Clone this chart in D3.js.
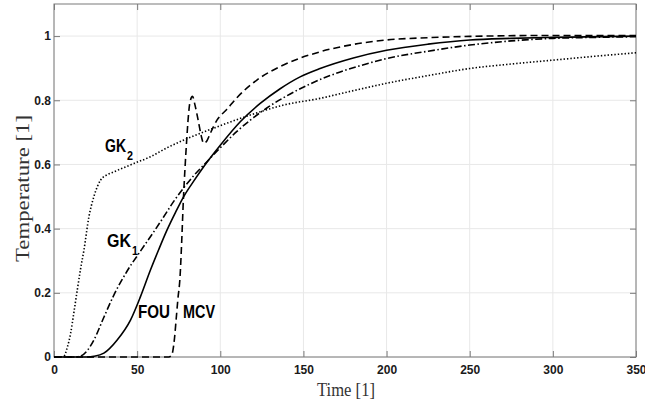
<!DOCTYPE html>
<html>
<head>
<meta charset="utf-8">
<script src="https://cdn.jsdelivr.net/npm/d3@7"></script>
<style>
  body { margin: 0; background: #fff; }
  svg { display: block; }
</style>
</head>
<body>
<svg id="canvas" width="645" height="409"></svg>
<script>
// tick values and labels
let xTicks = [0, 50, 100, 150, 200, 250, 300, 350];
let xTickLabels = ['0', '50', '100', '150', '200', '250', '300', '350'];
let yTicks = [0, 0.2, 0.4, 0.6, 0.8, 1];
let yTickLabels = ['0', '0.2', '0.4', '0.6', '0.8', '1'];

// curves: [time, temperature]
let gk2 = [[0,0],[4,0],[6,0.003],[8,0.03],[10,0.074],[12,0.14],[14,0.209],[16,0.275],[18,0.333],[21,0.437],[24,0.5],[26,0.53],[28,0.551],[32,0.568],[36,0.577],[42,0.59],[48,0.603],[58,0.624],[68,0.652],[78,0.676],[98,0.717],[118,0.754],[138,0.785],[160,0.806],[180,0.83],[200,0.853],[225,0.877],[250,0.899],[275,0.913],[300,0.925],[325,0.937],[350,0.948]];
let gk1 = [[0,0],[12,0],[16,0.003],[20,0.02],[24,0.053],[30,0.124],[36,0.193],[44,0.268],[52,0.33],[60,0.39],[66,0.437],[72,0.485],[78,0.527],[84,0.565],[90,0.598],[100,0.652],[110,0.703],[118,0.738],[128,0.776],[138,0.808],[152,0.846],[166,0.877],[183,0.906],[200,0.93],[225,0.953],[250,0.972],[275,0.985],[300,0.993],[325,0.996],[350,0.998]];
let fou = [[0,0],[20,0],[24,0.002],[30,0.012],[38,0.053],[46,0.115],[52,0.188],[58,0.271],[63,0.335],[68,0.396],[73,0.45],[78,0.5],[84,0.548],[90,0.593],[100,0.66],[112,0.733],[124,0.79],[136,0.836],[148,0.873],[160,0.899],[180,0.932],[200,0.956],[225,0.975],[250,0.988],[275,0.993],[300,0.996],[350,1.0]];
let mcv = [[0,0],[69,0],[70.5,0.004],[71.5,0.02],[72.5,0.06],[73.5,0.12],[74.5,0.18],[75.8,0.25],[76.8,0.36],[77.8,0.49],[78.8,0.59],[79.8,0.676],[80.8,0.75],[81.8,0.795],[83.3,0.812],[84.8,0.785],[86.8,0.735],[88.5,0.69],[90,0.666],[92,0.674],[94,0.697],[98,0.738],[104,0.772],[110,0.808],[122,0.863],[138,0.91],[160,0.951],[180,0.974],[200,0.988],[225,0.995],[250,0.999],[300,1.002],[350,1.002]];

let seriesData = [gk2, gk1, fou, mcv];
let seriesDash = ['1.4,2', '7,2.5,1.5,2.5', null, '7,4'];

let canvas = d3.select('#canvas');

let x = d3.scaleLinear().domain([0, 350]).range([54, 636]);
let y = d3.scaleLinear().domain([0, 1.1]).range([357, 4]);

// grid
canvas.append('g')
    .selectAll('line')
    .data(xTicks)
    .enter()
    .append('line')
    .attr('x1', d => x(d)).attr('x2', d => x(d))
    .attr('y1', y(0)).attr('y2', y(1.1))
    .attr('stroke', '#e8e8e8')
    .attr('stroke-width', 1);

canvas.append('g')
    .selectAll('line')
    .data(yTicks)
    .enter()
    .append('line')
    .attr('x1', x(0)).attr('x2', x(350))
    .attr('y1', d => y(d)).attr('y2', d => y(d))
    .attr('stroke', '#e8e8e8')
    .attr('stroke-width', 1);

// axes with inward ticks
let styleAxis = (g) => {
    g.select('.domain').remove();
    g.selectAll('.tick line').attr('stroke', '#7a7a7a');
    g.selectAll('.tick text')
        .attr('fill', '#1a1a1a')
        .style('font-family', '"Liberation Sans", Arial, sans-serif')
        .style('font-size', '12px')
        .style('font-weight', 'bold');
};

canvas.append('g')
    .attr('transform', 'translate(0,' + y(0) + ')')
    .call(d3.axisBottom(x).tickValues(xTicks).tickFormat((d, i) => xTickLabels[i]).tickSize(-6).tickPadding(8))
    .call(styleAxis);

canvas.append('g')
    .attr('transform', 'translate(0,' + y(1.1) + ')')
    .call(d3.axisTop(x).tickValues(xTicks).tickFormat('').tickSize(-6))
    .call(styleAxis);

canvas.append('g')
    .attr('transform', 'translate(' + x(0) + ',0)')
    .call(d3.axisLeft(y).tickValues(yTicks).tickFormat((d, i) => yTickLabels[i]).tickSize(-6).tickPadding(3))
    .call(styleAxis);

canvas.append('g')
    .attr('transform', 'translate(' + x(350) + ',0)')
    .call(d3.axisRight(y).tickValues(yTicks).tickFormat('').tickSize(-6))
    .call(styleAxis);

// box
canvas.append('rect')
    .attr('x', x(0)).attr('y', y(1.1))
    .attr('width', x(350) - x(0)).attr('height', y(0) - y(1.1))
    .attr('fill', 'none')
    .attr('stroke', '#7a7a7a')
    .attr('stroke-width', 1);

// curves
let line = d3.line()
    .x(d => x(d[0]))
    .y(d => y(d[1]))
    .curve(d3.curveMonotoneX);

canvas.append('g')
    .selectAll('path')
    .data(seriesData)
    .enter()
    .append('path')
    .attr('d', line)
    .attr('fill', 'none')
    .attr('stroke', '#000')
    .attr('stroke-width', 1.6)
    .attr('stroke-dasharray', (d, i) => seriesDash[i]);

// curve labels (subscript as a tspan of the same text)
let labelFont = '"Liberation Sans", Arial, sans-serif';
let addLabel = (main, sub, lx, ly, w) => {
    let t = canvas.append('text')
        .attr('x', lx).attr('y', ly)
        .attr('fill', '#000')
        .style('font-family', labelFont)
        .style('font-weight', 'bold')
        .style('font-size', '19px');
    t.append('tspan')
        .attr('textLength', w)
        .attr('lengthAdjust', 'spacingAndGlyphs')
        .text(main);
    if (sub) {
        t.append('tspan')
            .attr('dx', 1)
            .attr('dy', 8)
            .style('font-size', '12px')
            .attr('textLength', 6)
            .attr('lengthAdjust', 'spacingAndGlyphs')
            .text(sub);
    }
};
addLabel('GK', '2', 105, 152, 21);
addLabel('GK', '1', 107, 247, 24);
addLabel('FOU', null, 138, 318, 32);
addLabel('MCV', null, 183, 318, 32);

// axis titles
canvas.append('text')
    .attr('x', 317).attr('y', 396)
    .attr('fill', '#333')
    .style('font-family', '"Liberation Serif", "Times New Roman", serif')
    .style('font-size', '19px')
    .attr('textLength', 58)
    .attr('lengthAdjust', 'spacingAndGlyphs')
    .text('Time [1]');

canvas.append('text')
    .attr('transform', 'translate(29,262) rotate(-90)')
    .attr('fill', '#333')
    .style('font-family', '"Liberation Serif", "Times New Roman", serif')
    .style('font-size', '19px')
    .attr('textLength', 147)
    .attr('lengthAdjust', 'spacingAndGlyphs')
    .text('Temperature [1]');
</script>
</body>
</html>
